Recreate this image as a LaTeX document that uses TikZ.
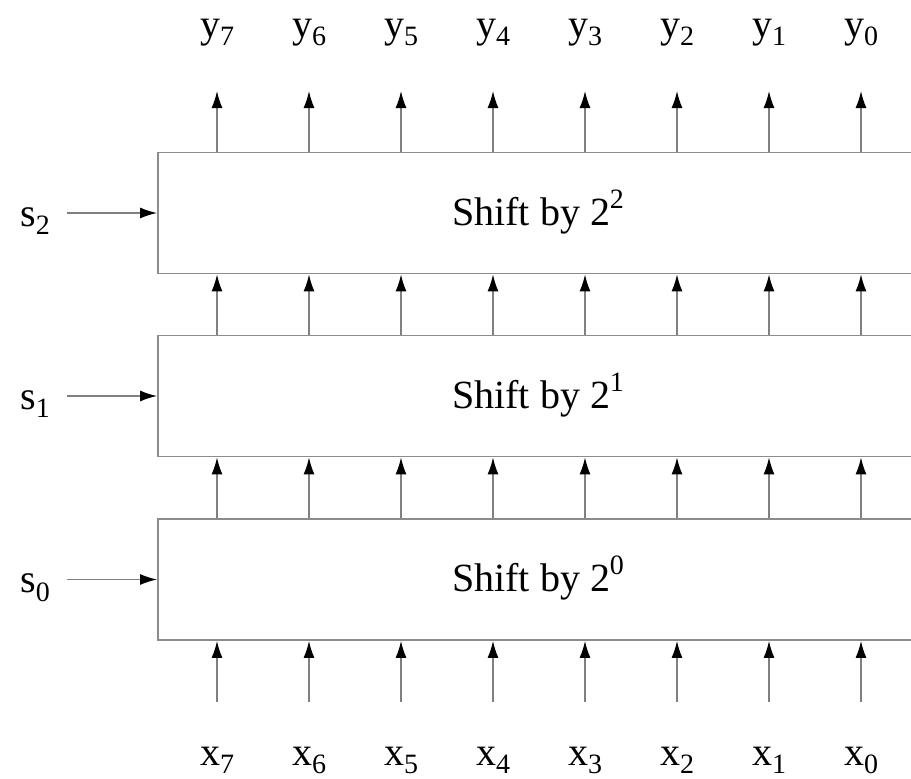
\documentclass[tikz,border=0pt]{standalone}
\usepackage{fontspec}
\setmainfont{Liberation Serif}
\usetikzlibrary{arrows.meta}
\newcommand{\subsc}[1]{\raisebox{-0.22em}{\fontsize{28}{30}\selectfont #1}}
\newcommand{\supsc}[1]{\raisebox{0.42em}{\fontsize{28}{30}\selectfont #1}}
\begin{document}
\begin{tikzpicture}[x=1pt,y=-1pt,
  box/.style={draw=black!45,line width=1.8pt,rectangle,minimum height=121pt,minimum width=842pt,inner sep=0pt},
  arr/.style={draw=black!50,line width=1.5pt,-{Latex[black,length=17pt,width=11pt]}},
  lbl/.style={font=\fontsize{40}{48}\selectfont,inner sep=0pt}]
\useasboundingbox (0,0) rectangle (911,779);
\clip (0,0) rectangle (911,779);
% boxes
\node[box] (b2) at (579,213) {};
\node[box] (b1) at (579,396) {};
\node[box] (b0) at (579,579.5) {};
\node[lbl,anchor=base west] (t2) at (452,225) {Shift by 2\supsc{2}};
\node[lbl,anchor=base west] (t1) at (452,408) {Shift by 2\supsc{1}};
\node[lbl,anchor=base west] (t0) at (452,591) {Shift by 2\supsc{0}};
% shift inputs
\foreach \i/\yy in {2/213,1/396,0/579.5}{
  \node[lbl,anchor=base] (s\i) at (35,\yy+13) {s\subsc{\i}};
  \coordinate (sa\i) at (67,\yy);
  \draw[arr] (sa\i) -- (b\i.west);
}
% columns
\foreach \k/\cx in {7/217,6/309,5/401,4/493,3/585,2/677,1/769,0/861}{
  \coordinate (c\k) at (\cx,0);
  \node[lbl,anchor=base] (y\k) at (\cx,37) {y\subsc{\k}};
  \node[lbl,anchor=base] (x\k) at (\cx,765) {x\subsc{\k}};
  \coordinate (yt\k) at (\cx,91);
  \coordinate (xb\k) at (\cx,702);
  \draw[arr] (b2.north -| c\k) -- (yt\k);
  \draw[arr] (b1.north -| c\k) -- (b2.south -| c\k);
  \draw[arr] (b0.north -| c\k) -- (b1.south -| c\k);
  \draw[arr] (xb\k) -- (b0.south -| c\k);
}
\end{tikzpicture}
\end{document}
